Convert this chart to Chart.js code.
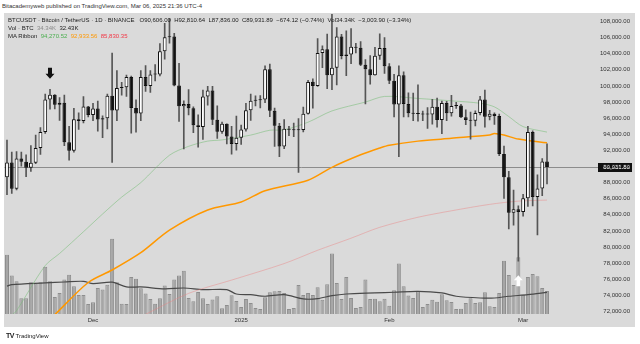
<!DOCTYPE html>
<html>
<head>
<meta charset="utf-8">
<title>BTCUSDT 1D</title>
<script src="https://cdn.jsdelivr.net/npm/chart.js@4.4.1/dist/chart.umd.min.js"></script>
<style>
  html, body { margin: 0; padding: 0; background: #fff; }
  body { width: 640px; height: 344px; position: relative; overflow: hidden;
         font-family: "Liberation Sans", Arial, sans-serif; color: #222; }
  #pub { position: absolute; left: 2px; top: 3px; font-size: 6px; color: #333; white-space: nowrap; }
  #panel { position: absolute; left: 4px; top: 13px; width: 631px; height: 314px; background: #dadada; }
  #chart { position: absolute; left: 0; top: 0; }
  .leg { position: absolute; left: 8px; font-size: 6px; color: #222; white-space: pre; z-index: 2; }
  #logo { position: absolute; left: 6px; top: 332px; font-size: 6px; color: #222; white-space: nowrap; }
  #logo b { font-size: 7px; letter-spacing: -0.5px; }
</style>
</head>
<body>
<div id="pub">Bitacademyweb published on TradingView.com, Mar 06, 2025 21:36 UTC-4</div>
<div id="panel"></div>
<canvas id="chart" width="640" height="344"></canvas>
<div class="leg" style="top:17px">BTCUSDT · Bitcoin / TetherUS · 1D · BINANCE   O90,606.00  H92,810.64  L87,836.00  C89,931.89  −674.12 (−0.74%)  Vol34.34K  −3,003.90 (−3.34%)</div>
<div class="leg" style="top:25px">Vol · BTC  <span style="color:#8a8a8a">34.34K</span>  32.43K</div>
<div class="leg" style="top:33px">MA Ribbon  <span style="color:#4caf50">94,270.52</span>  <span style="color:#ff9800">92,933.56</span>  <span style="color:#f23645">85,830.35</span></div>
<div id="logo"><b>TV</b> TradingView</div>

<script>
// daily candles, 13 Nov 2024 .. 6 Mar 2025
var firstDay = '2024-11-13';

var open = [88665,90485,87250,91000,90600,89845,90464,92310,94287,98317,
  98892,97673,97900,93010,91966,95863,95643,97460,96407,97185,
  95840,96002,98768,96957,99740,99831,101109,97276,96593,101125,
  100004,101424,101421,104298,106029,106140,100042,97490,97755,97224,
  95105,94905,98676,99432,95791,94299,95300,93738,92792,93576,
  94591,96985,98174,98236,98314,102078,96923,95043,92484,94701,
  94566,94488,94517,96534,100505,99988,104078,104556,101332,102260,
  106144,103706,103910,104870,104746,102620,102083,101335,103734,104722,
  102430,100636,97700,101328,97763,96613,96554,96506,96444,96462,
  97430,95778,97870,96608,97500,97569,96118,95780,95671,96644,
  98305,96181,96551,96258,91552,88680,84250,84708,84350,86064,
  94270,86221,87281,90606];

var high = [93265,91790,91850,91779,91449,92594,93905,94831,98988,99588,
  98919,98564,98871,94973,97208,96650,98693,97463,97836,98130,
  96305,99000,104088,101898,100439,101350,101215,98270,101895,102540,
  101895,102650,105250,107780,108353,106524,102800,98154,99540,97400,
  96416,99487,99960,99963,97544,95500,95300,95000,96250,95150,
  97839,98976,98778,98813,102482,102724,97259,95349,95836,94977,
  95378,95940,97371,100681,100873,105865,104988,106422,109588,107240,
  106394,106850,107120,105286,105500,103260,103783,104800,106457,106012,
  102783,101456,102500,101745,99149,99120,100137,96880,97323,98345,
  98478,98119,98080,98826,97972,97704,97046,96753,96899,98711,
  99475,96980,96650,96500,92540,89414,87078,85120,86558,95000,
  94416,88967,90998,92810];

var low = [86500,86668,87100,90056,88722,89376,90357,91500,94100,97122,
  97140,95734,92600,90791,91792,94613,95400,96150,95693,94395,
  93578,94660,90500,95700,98844,98690,94150,94256,95676,99311,
  99205,100609,101230,103322,105321,100000,95587,92175,96398,94200,
  92403,93365,97600,95200,93500,94120,92800,91530,92033,92744,
  94392,95726,97514,97271,97926,96181,92500,91220,92207,93840,
  93712,89256,94306,96500,97255,99950,102278,99651,99550,100119,
  103339,101262,102750,104106,102520,97777,100233,101328,103278,101560,
  100279,96150,91231,96150,96155,95676,95620,95688,94713,95256,
  94876,94088,95700,96252,97223,96046,95205,93388,95029,96415,
  94871,95770,95227,91350,86050,82256,82716,78258,83824,85050,
  85117,81500,86379,87836];

var close = [90485,87250,91000,90600,89845,90464,92310,94287,98317,98892,
  97673,97900,93010,91966,95863,95643,97460,96407,97185,95840,
  96002,98768,96957,99740,99831,101109,97276,96593,101125,100004,
  101424,101421,104298,106029,106140,100042,97490,97755,97224,95105,
  94905,98676,99432,95791,94299,95300,93738,92792,93576,94591,
  96984,98174,98236,98314,102078,96923,95043,92484,94701,94567,
  94488,94517,96534,100504,99987,104077,104556,101331,102260,106143,
  103706,103910,104870,104746,102620,102082,101336,103733,104722,102430,
  100636,97700,101328,97763,96612,96554,96506,96444,96462,97430,
  95778,97869,96608,97500,97569,96118,95780,95671,96644,98305,
  96181,96551,96258,91552,88680,84250,84708,84350,86064,94270,
  86220,87281,90606,89931.89];

// volume, thousands of BTC
var volume = [89,57.6,49,23.6,23.6,47.7,45.6,47.7,71,49,
  25.6,31.6,51.6,59,41.6,28.6,28.6,15,17.5,39,
  36.6,44,112.8,47.7,15.5,15,55.6,53,38.6,30.6,
  22.6,15.3,23.6,42.6,30,51.6,57.6,65,24,19,
  33,23.6,15,21.6,26.6,8.5,13.5,28,19.5,10.5,
  22.6,16.5,9,7.5,25,32.6,34,34.6,31.6,7.5,
  9,43.6,28.6,31.6,28.6,40,21.5,44.6,90.7,46.6,
  22.6,55.6,24,9,10.5,51.6,22.6,23,19,23,
  12.5,35.6,75.6,41.6,27.6,24,33.6,10.5,15,21.5,
  18.5,29.6,20.6,18,7.5,8,16.5,23.6,16.5,17.6,
  32.6,11.5,10.5,31.6,79.7,58.6,43.6,85,28.6,55.6,
  60,56.6,39,34.34];

// moving averages: [candle index, value]
var volMa = [[0,41.7],[1,44],[8,46.6],[12,48],[16,49],[18,45.5],[22,47.7],[25,40.6],[28,40.6],
  [33,37.6],[37,39],[41,36.5],[46,36.5],[48,30],[51,29],[54,26.6],[58,29],[62,22.6],[65,23],
  [68,27.5],[71,30],[77,31.6],[81,32.6],[86,34],[91,31.6],[94,26.6],[99,24],[102,24],
  [105,26.6],[109,29],[113,32.43]];
var maGreen = [[1,71500],[2,72100],[8,77700],[11,79200],[16,81900],[20,84100],[24,86200],
  [28,88000],[34,91400],[38,92500],[42,93150],[45,93300],[51,93900],[55,94500],[58,94550],
  [63,95500],[68,96900],[75,98000],[79,98700],[86,98450],[93,98150],[99,97850],[102,97400],
  [105,96200],[108,94950],[113,94270.52]];
var maOrange = [[10,71600],[17,75600],[22,77150],[28,79300],[34,82100],[42,84600],[49,85600],
  [54,87000],[63,88300],[68,89900],[74,91450],[78,92300],[80,92650],[86,93150],[93,93500],
  [101,93900],[102,94100],[104,93900],[107,93400],[113,92933.56]];
var maRed = [[29,71650],[38,74250],[47,75900],[58,77950],[65,79600],[72,81100],[78,82450],
  [86,83700],[93,84500],[101,85300],[107,85700],[113,85830.35]];

var priceTicks = [72000,74000,76000,78000,80000,82000,84000,86000,88000,90000,
  92000,94000,96000,98000,100000,102000,104000,106000,108000];
var monthTickDates = ['2024-12-01','2025-01-01','2025-02-01','2025-03-01'];
var monthTickLabels = ['Dec','2025','Feb','Mar'];

// arrows drawn on the chart: [candle index, value, axis, direction]
var arrows = [[9, 100900, 'y', 'down'], [107, 58, 'yv', 'up']];

var days = [];
(function () {
  var d = new Date(firstDay + 'T00:00:00Z');
  for (var i = 0; i < close.length; i++) {
    days.push(d.toISOString().slice(0, 10));
    d.setUTCDate(d.getUTCDate() + 1);
  }
})();
var monthTickIdx = monthTickDates.map(function (s) { return days.indexOf(s); });

var bodies = [], wicks = [], bodyColors = [], vols = [];
for (var i = 0; i < close.length; i++) {
  bodies.push({ x: i, y: [Math.min(open[i], close[i]), Math.max(open[i], close[i])] });
  wicks.push({ x: i, y: [low[i], high[i]] });
  bodyColors.push(close[i] >= open[i] ? '#ffffff' : '#111111');
  vols.push({ x: i, y: volume[i] });
}
function pts(arr) { return arr.map(function (p) { return { x: p[0], y: p[1] }; }); }

var lastPrice = close[close.length - 1];
function fmt(v) {
  return v.toLocaleString('en-US', { minimumFractionDigits: 2, maximumFractionDigits: 2 });
}

// price scale labels sit at the far right edge, like TradingView
var priceAxisLabels = {
  id: 'priceAxisLabels',
  afterDraw: function (chart) {
    var ctx = chart.ctx, ys = chart.scales.y;
    ctx.save();
    ctx.fillStyle = '#333';
    ctx.font = '6px "Liberation Sans"';
    ctx.textAlign = 'right';
    ctx.textBaseline = 'middle';
    ys.ticks.forEach(function (t) {
      ctx.fillText(fmt(t.value), 630, ys.getPixelForValue(t.value));
    });
    ctx.restore();
  }
};

var priceTag = {
  id: 'priceTag',
  beforeDatasetsDraw: function (chart) {
    var ctx = chart.ctx, ca = chart.chartArea;
    var py = Math.round(chart.scales.y.getPixelForValue(lastPrice)) + 0.5;
    ctx.save();
    ctx.strokeStyle = '#8c8c8c';
    ctx.lineWidth = 1;
    ctx.beginPath();
    ctx.moveTo(ca.left, py);
    ctx.lineTo(598, py);
    ctx.stroke();
    ctx.restore();
  },
  afterDraw: function (chart) {
    var ctx = chart.ctx;
    var py = Math.round(chart.scales.y.getPixelForValue(lastPrice));
    ctx.save();
    ctx.fillStyle = '#111';
    ctx.fillRect(598, py - 4, 34, 9);
    ctx.fillStyle = '#fff';
    ctx.font = 'bold 6px "Liberation Sans"';
    ctx.textAlign = 'right';
    ctx.textBaseline = 'middle';
    ctx.fillText(fmt(lastPrice), 630, py + 0.5);

    arrows.forEach(function (a) {
      var x = chart.scales.x.getPixelForValue(a[0]);
      var y = chart.scales[a[2]].getPixelForValue(a[1]);
      var s = a[3] === 'down' ? -1 : 1; // tip at y
      ctx.fillStyle = a[3] === 'down' ? '#111' : '#fff';
      ctx.beginPath();
      ctx.moveTo(x, y);
      ctx.lineTo(x + 4.5, y + s * 5);
      ctx.lineTo(x + 2, y + s * 5);
      ctx.lineTo(x + 2, y + s * 11);
      ctx.lineTo(x - 2, y + s * 11);
      ctx.lineTo(x - 2, y + s * 5);
      ctx.lineTo(x - 4.5, y + s * 5);
      ctx.closePath();
      ctx.fill();
    });
    ctx.restore();
  }
};

Chart.defaults.font.family = '"Liberation Sans", Arial, sans-serif';
Chart.defaults.font.size = 6;
Chart.defaults.color = '#333';

new Chart(document.getElementById('chart'), {
  type: 'bar',
  data: {
    datasets: [
      { type: 'bar', label: 'Body', data: bodies, yAxisID: 'y', grouped: false, order: 0,
        backgroundColor: bodyColors, borderColor: '#111', borderWidth: 1, borderSkipped: false,
        barPercentage: 0.8, categoryPercentage: 1, minBarLength: 1 },
      { type: 'bar', label: 'Wick', data: wicks, yAxisID: 'y', grouped: false, order: 1,
        backgroundColor: '#555', borderWidth: 0, barPercentage: 1, categoryPercentage: 1,
        maxBarThickness: 1 },
      { type: 'line', label: 'MA fast', data: pts(maGreen), yAxisID: 'y', order: 2,
        borderColor: 'rgba(120,190,120,0.55)', borderWidth: 1, pointRadius: 0, tension: 0.3 },
      { type: 'line', label: 'MA mid', data: pts(maOrange), yAxisID: 'y', order: 2,
        borderColor: '#ff9800', borderWidth: 1.5, pointRadius: 0, tension: 0.3 },
      { type: 'line', label: 'MA slow', data: pts(maRed), yAxisID: 'y', order: 2,
        borderColor: 'rgba(235,130,130,0.45)', borderWidth: 1, pointRadius: 0, tension: 0.3 },
      { type: 'line', label: 'Vol MA', data: pts(volMa), yAxisID: 'yv', order: 3,
        borderColor: '#4a4a4a', borderWidth: 1.2, pointRadius: 0, tension: 0.3 },
      { type: 'bar', label: 'Volume', data: vols, yAxisID: 'yv', grouped: false, order: 4,
        backgroundColor: '#a6a6a6', borderColor: '#8e8e8e', borderWidth: 1, borderSkipped: 'start',
        barPercentage: 0.84, categoryPercentage: 1 }
    ]
  },
  options: {
    responsive: false,
    animation: false,
    events: [],
    layout: { padding: { left: 4.6, right: 0, top: 14, bottom: 16 } },
    plugins: { legend: { display: false }, tooltip: { enabled: false } },
    scales: {
      x: {
        type: 'linear', min: -0.5, max: 115.3, offset: false,
        grid: { display: false, drawTicks: false }, border: { display: false },
        afterBuildTicks: function (s) { s.ticks = monthTickIdx.map(function (v) { return { value: v }; }); },
        afterFit: function (s) { s.height = 14; },
        ticks: {
          autoSkip: false, maxRotation: 0, padding: 3, color: '#333',
          callback: function (v) { var k = monthTickIdx.indexOf(v); return k < 0 ? '' : monthTickLabels[k]; }
        }
      },
      y: {
        position: 'right', min: 71690, max: 108930,
        grid: { display: false, drawTicks: false }, border: { display: false },
        afterBuildTicks: function (s) { s.ticks = priceTicks.map(function (v) { return { value: v }; }); },
        afterFit: function (s) { s.width = 82; s.paddingTop = 0; s.paddingBottom = 0; },
        ticks: { display: false }
      },
      yv: {
        display: false, position: 'right', min: 0, max: 450
      }
    }
  },
  plugins: [priceTag, priceAxisLabels]
});
</script>
</body>
</html>
